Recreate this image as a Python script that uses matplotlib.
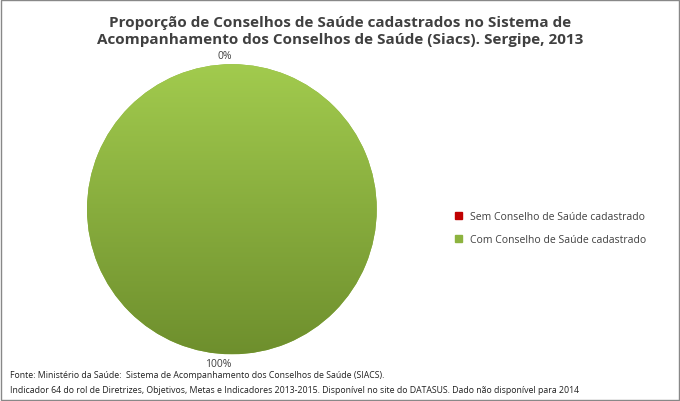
import matplotlib
matplotlib.use("Agg")
import matplotlib.pyplot as plt
import numpy as np
from matplotlib.patches import Rectangle
from matplotlib.colors import LinearSegmentedColormap

categories = ["Sem Conselho de Saúde cadastrado", "Com Conselho de Saúde cadastrado"]
values = [0, 100]
pct_labels = ["0%", "100%"]
colors = ["#C00000", "#8DB33F"]

plt.rcParams['font.family'] = ['Open Sans', 'DejaVu Sans']
fig = plt.figure(figsize=(6.8, 4.02), dpi=100)
fig.patches.append(Rectangle((0.002, 0.002), 0.996, 0.996, transform=fig.transFigure,
                             fill=False, edgecolor="#888888", lw=1))
ax = fig.add_axes([0.096, 0.062, 0.49, 0.83])
wedges, texts = ax.pie(values, labels=pct_labels, colors=colors, startangle=90,
                       counterclock=False, labeldistance=1.06,
                       textprops=dict(fontsize=7.5, color="#404040"))
ax.set_aspect('equal')
grad = np.linspace(0, 1, 256).reshape(-1, 1)
cmap = LinearSegmentedColormap.from_list("g", ["#A2CB4E", "#6E8F2D"])
im = ax.imshow(grad, extent=[-1, 1, -1, 1], cmap=cmap, origin="upper", zorder=2, aspect='auto')
im.set_clip_path(wedges[1])
ax.set_xlim(-1.15, 1.15); ax.set_ylim(-1.15, 1.15)

fig.text(0.5, 0.96, "Proporção de Conselhos de Saúde cadastrados no Sistema de\n"
         "Acompanhamento dos Conselhos de Saúde (Siacs). Sergipe, 2013",
         ha="center", va="top", fontsize=11, fontweight="bold", color="#404040", linespacing=1.3)

handles = [Rectangle((0, 0), 1, 1, color=c) for c in colors]
fig.legend(handles, categories, loc="center left", bbox_to_anchor=(0.655, 0.43),
           frameon=False, fontsize=7.5, handlelength=0.7, handleheight=0.7,
           labelspacing=1.1, labelcolor="#404040")

fig.text(0.015, 0.06, "Fonte: Ministério da Saúde:  Sistema de Acompanhamento dos Conselhos de Saúde (SIACS).",
         fontsize=6.3, color="#202020")
fig.text(0.015, 0.022, "Indicador 64 do rol de Diretrizes, Objetivos, Metas e Indicadores 2013-2015. Disponível no site do DATASUS. Dado não disponível para 2014",
         fontsize=6.3, color="#202020")
fig.savefig("out.png", dpi=100)
